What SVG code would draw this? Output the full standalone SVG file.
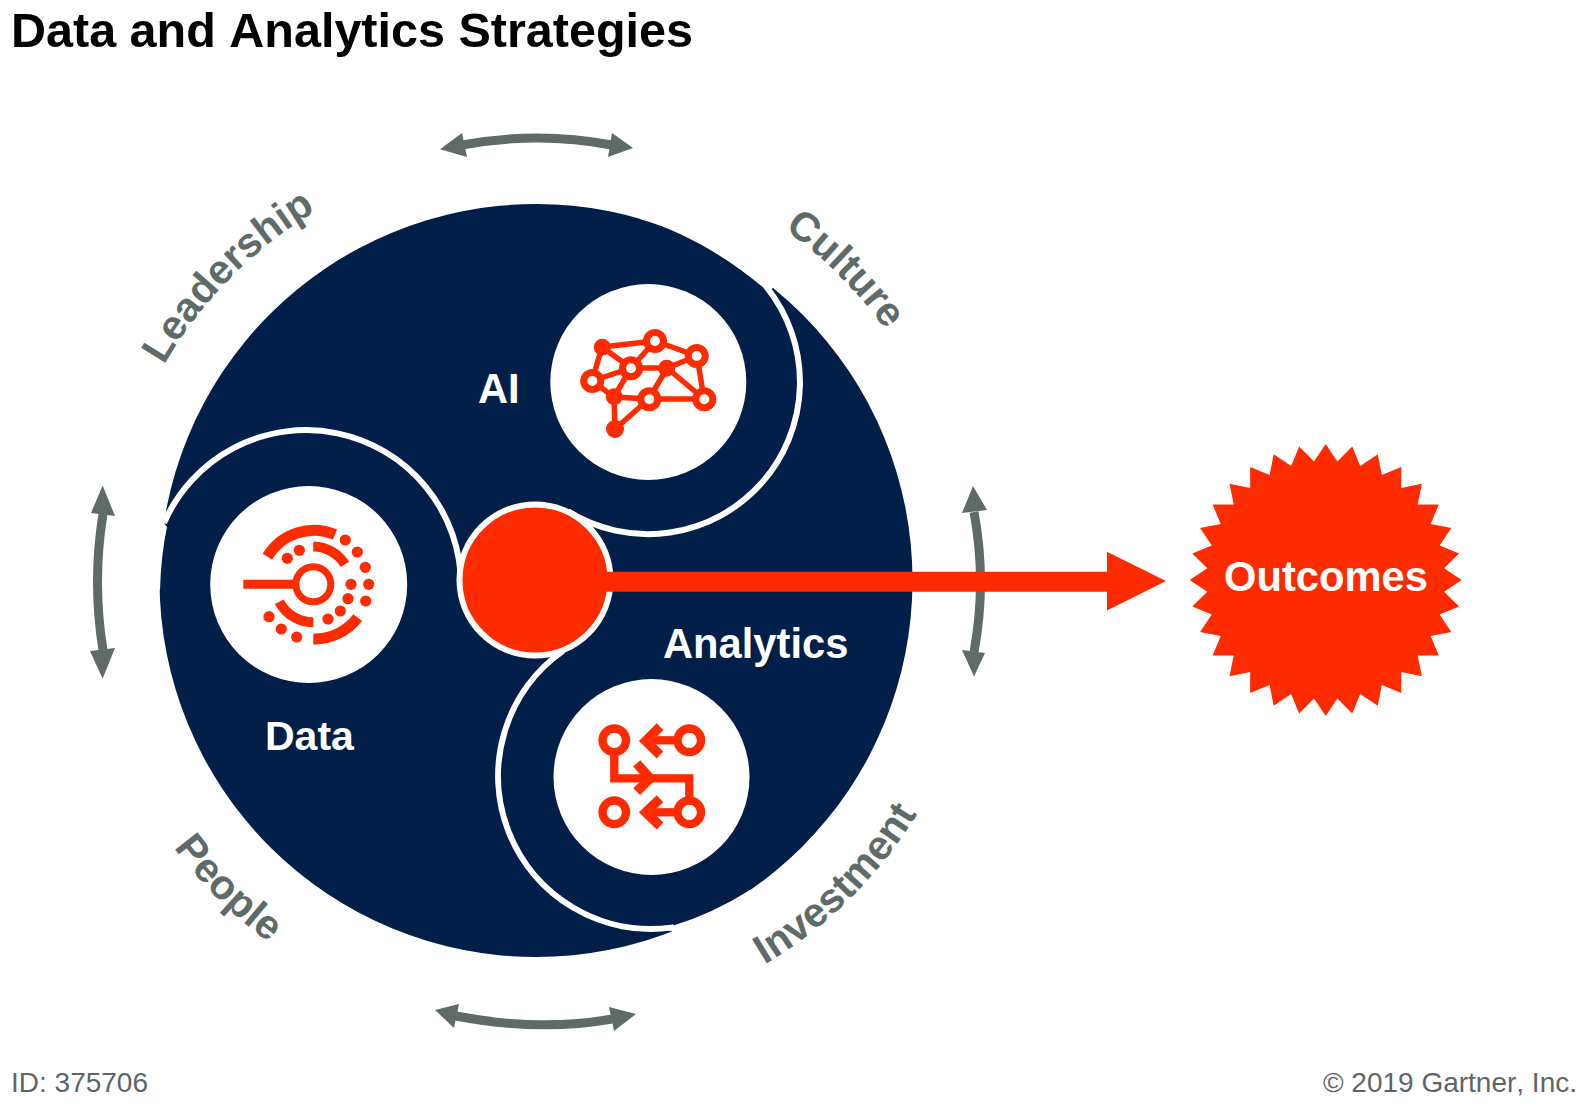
<svg xmlns="http://www.w3.org/2000/svg" width="1594" height="1106" viewBox="0 0 1594 1106">
<style>
text{font-family:"Liberation Sans",Arial,sans-serif;font-kerning:none}
.b{font-weight:700}
.w{fill:#fff;font-size:41.7px;font-weight:700}
.lab{fill:#5e6b69;font-size:41px;font-weight:700;text-anchor:middle}
.foot{fill:#5f6665;font-size:28px}
.sw{fill:none;stroke:#fff;stroke-width:6}
.gs{fill:none;stroke:#5e6b69;stroke-width:9}
.gh{fill:#5e6b69}
.edge{stroke:#ff2b00;stroke-width:5.5;fill:none}
.sol{fill:#ff2b00}
.rg{fill:#fff;stroke:#ff2b00;stroke-width:7}
.st{fill:none;stroke:#ff2b00;stroke-width:9.5;stroke-linejoin:miter}
.ar{fill:none;stroke:#ff2b00;stroke-width:8.3}
</style>
<defs>
<path id="upper" d="M106,580.5 A430,430 0 0 1 966,580.5"/>
<path id="lower" d="M89,580.5 A447,447 0 0 0 983,580.5"/>
</defs>
<rect width="1594" height="1106" fill="#fff"/>
<text id="title" class="b" x="11" y="47" font-size="48.5" fill="#000">Data and Analytics Strategies</text>
<g id="disc">
<circle cx="536" cy="580.5" r="376.5" fill="#021f4a"/>
<path d="M640,219 C690,233.4 735,263 770,293 L773,287 L770,285 L720,195 Z" fill="#fff"/>
<path d="M164,523 L167,527 Q161,555 160,590 L150,590 L150,523 Z" fill="#fff"/>
<path d="M750,890 Q712,914 672,926 L672,932 L760,960 L800,890 Z" fill="#fff"/>
<path class="sw" d="M771,284 Q768,286 766.9,287.5 A152,152 0 0 1 568,511.4"/>
<path class="sw" d="M164,523 A155,155 0 0 1 461,584.5"/>
<path class="sw" d="M673,930 L671.5,927.6 A153,153 0 0 1 563.4,650.6"/>
</g>
<g id="connectors">
<g id="arrow-top"><path class="gs" d="M462,145 Q537,131 612,145"/><path class="gh" d="M440,149.3 462,133 467,157Z"/><path class="gh" d="M633,148 612,133 608,157Z"/></g>
<g id="arrow-bottom"><path class="gs" d="M456,1016 Q539,1032 612,1019"/><path class="gh" d="M435,1010 459,1004 454,1028Z"/><path class="gh" d="M636,1014 609,1007 614,1031Z"/></g>
<g id="arrow-left"><path class="gs" d="M103,514 Q92,582 103,650"/><path class="gh" d="M102.6,485.6 91,513 115,516Z"/><path class="gh" d="M102.6,678.7 90,651 115,648Z"/></g>
<g id="arrow-right"><path class="gs" d="M974,512 Q987,582 974,652"/><path class="gh" d="M973,486 962,513 987,510Z"/><path class="gh" d="M974,676.6 962,650 985,653Z"/></g>
</g>
<g id="hub">
<circle cx="535" cy="580" r="75.5" fill="#ff2b00" stroke="#fff" stroke-width="6"/>
</g>
<g id="connector-outcomes">
<path d="M600,571.7 H1107 V551.7 L1166,581 L1107,610.6 V591.7 H600 Z" fill="#ff2b00"/>
</g>
<g id="node-ai">
<circle cx="648.3" cy="382" r="98" fill="#fff"/>
<g class="edge">
<path d="M602,347 L655,341 M602,347 L631,368 M602,347 L592,381 M592,381 L631,368 M592,381 L614,397 M631,368 L614,397 M655,341 L697,356 M655,341 L631,368 M631,368 L667,368 M667,368 L697,356 M667,368 L649,399 M667,368 L704,399 M697,356 L704,399 M649,399 L704,399 M614,397 L649,399 M614,397 L615,429 M615,429 L649,399"/>
</g>
<circle class="sol" cx="602.3" cy="347.3" r="8.5"/>
<circle class="sol" cx="614.3" cy="396.7" r="8.5"/>
<circle class="sol" cx="666.7" cy="368.3" r="8.5"/>
<circle class="sol" cx="615" cy="429" r="9"/>
<circle class="rg" cx="655" cy="341" r="8.5"/>
<circle class="rg" cx="592.3" cy="381" r="8.5"/>
<circle class="rg" cx="631" cy="368.3" r="8.5"/>
<circle class="rg" cx="696.7" cy="356" r="8.5"/>
<circle class="rg" cx="649.3" cy="399.3" r="8.5"/>
<circle class="rg" cx="704.3" cy="399.3" r="8.5"/>
<text class="w" x="478" y="403">AI</text>
</g>
<g id="node-data">
<circle cx="308.7" cy="584.5" r="98.5" fill="#fff"/>
<path d="M243.3,584.3 H296" stroke="#ff2b00" stroke-width="9" fill="none"/>
<circle cx="313.3" cy="584.3" r="17.5" fill="none" stroke="#ff2b00" stroke-width="7"/>
<path d="M267.3,556.7 A54.5,54.5 0 0 1 335,534.5" fill="none" stroke="#ff2b00" stroke-width="11"/>
<path d="M313.3,639 A54.5,54.5 0 0 0 357.7,617.7" fill="none" stroke="#ff2b00" stroke-width="11"/>
<path d="M313.3,546.5 A38,38 0 0 1 345,564.3" fill="none" stroke="#ff2b00" stroke-width="10"/>
<path d="M279.3,601.7 A38,38 0 0 0 313.3,622.3" fill="none" stroke="#ff2b00" stroke-width="10"/>
<g class="sol">
<circle cx="345.3" cy="540" r="5.6"/><circle cx="357.3" cy="552" r="5.6"/><circle cx="365.3" cy="567.3" r="5.6"/><circle cx="368.7" cy="584.3" r="5.6"/><circle cx="365.7" cy="601" r="5.6"/><circle cx="351" cy="584.3" r="5.6"/><circle cx="348" cy="598.7" r="5.6"/><circle cx="340.3" cy="611" r="5.6"/><circle cx="328" cy="619" r="5.6"/><circle cx="299.3" cy="550.3" r="5.6"/><circle cx="287.3" cy="558.3" r="5.6"/><circle cx="269" cy="616.7" r="5.6"/><circle cx="281.3" cy="629" r="5.6"/><circle cx="296.7" cy="637" r="5.6"/>
</g>
<text class="w" x="265" y="750" style="font-size:41px">Data</text>
</g>
<g id="node-analytics">
<circle cx="651.5" cy="777" r="98" fill="#fff"/>
<path class="ar" d="M614.3,752 V778.3 H689.3 V800"/>
<path class="ar" d="M678,740.3 H650"/>
<path class="ar" d="M678,812.3 H650"/>
<path class="st" d="M660,726.7 L645.7,741 L660,755"/>
<path class="st" d="M660,798.7 L645.7,812.3 L660,826"/>
<path class="st" d="M636.7,763.3 L650,778.3 L636.7,791.7"/>
<g fill="#fff" stroke="#ff2b00" stroke-width="8.3">
<circle cx="614.3" cy="740.3" r="11.8"/><circle cx="689.3" cy="740.3" r="11.8"/><circle cx="614.3" cy="812.3" r="11.8"/><circle cx="689.3" cy="812.3" r="11.8"/>
</g>
<text class="w" x="663" y="658">Analytics</text>
</g>
<g id="node-outcomes">
<polygon transform="translate(1325.7 580)" fill="#ff2b00" points="0,-136 11.66,-118.43 26.53,-133.39 34.54,-113.88 52.04,-125.65 56.1,-104.95 75.56,-113.08 75.49,-91.99 96.17,-96.17 91.99,-75.49 113.08,-75.56 104.95,-56.1 125.65,-52.04 113.88,-34.54 133.39,-26.53 118.43,-11.66 136,0 118.43,11.66 133.39,26.53 113.88,34.54 125.65,52.04 104.95,56.1 113.08,75.56 91.99,75.49 96.17,96.17 75.49,91.99 75.56,113.08 56.1,104.95 52.04,125.65 34.54,113.88 26.53,133.39 11.66,118.43 0,136 -11.66,118.43 -26.53,133.39 -34.54,113.88 -52.04,125.65 -56.1,104.95 -75.56,113.08 -75.49,91.99 -96.17,96.17 -91.99,75.49 -113.08,75.56 -104.95,56.1 -125.65,52.04 -113.88,34.54 -133.39,26.53 -118.43,11.66 -136,0 -118.43,-11.66 -133.39,-26.53 -113.88,-34.54 -125.65,-52.04 -104.95,-56.1 -113.08,-75.56 -91.99,-75.49 -96.17,-96.17 -75.49,-91.99 -75.56,-113.08 -56.1,-104.95 -52.04,-125.65 -34.54,-113.88 -26.53,-133.39 -11.66,-118.43"/>
<text class="w" x="1224" y="591">Outcomes</text>
</g>
<g id="labels">
<text class="lab"><textPath href="#upper" startOffset="24.8%">Leadership</textPath></text>
<text class="lab"><textPath href="#upper" startOffset="74.9%">Culture</textPath></text>
<text class="lab" dy="3"><textPath href="#lower" startOffset="25%">People</textPath></text>
<text class="lab"><textPath href="#lower" startOffset="74.8%">Investment</textPath></text>
</g>
<text class="foot" x="11" y="1092">ID: 375706</text>
<text class="foot" x="1577" y="1092" text-anchor="end">© 2019 Gartner, Inc.</text>
</svg>
